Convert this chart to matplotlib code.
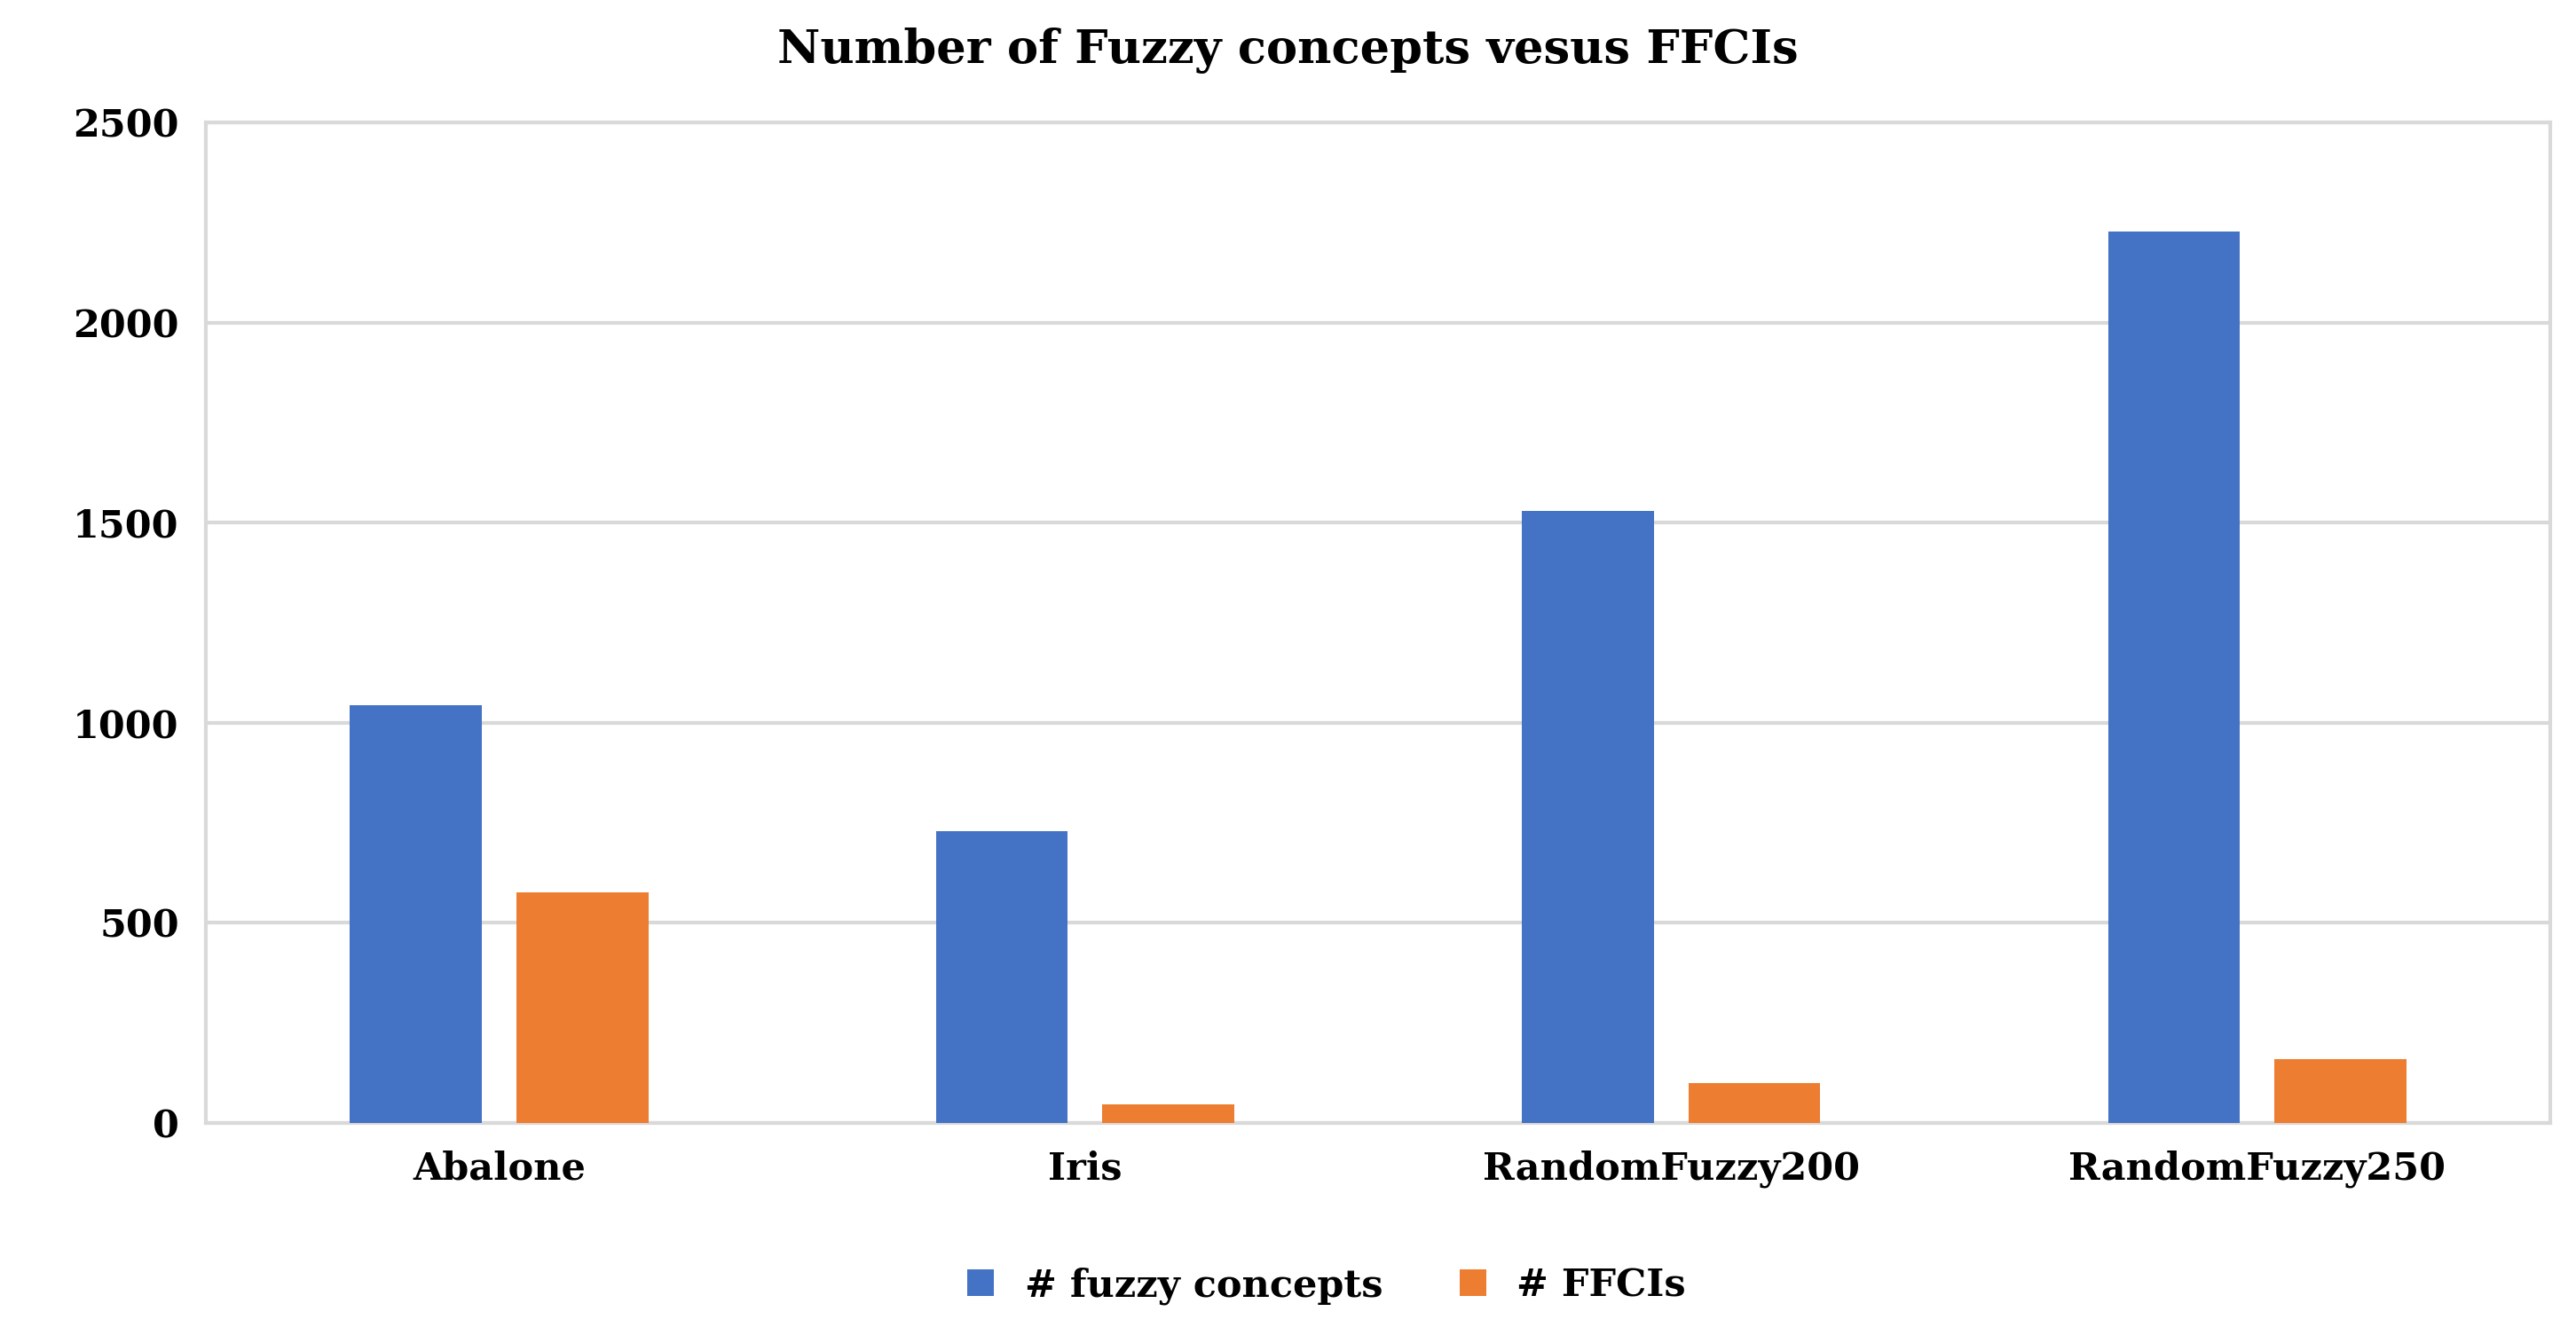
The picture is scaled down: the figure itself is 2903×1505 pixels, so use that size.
import matplotlib
matplotlib.use("Agg")
import matplotlib.pyplot as plt
import numpy as np

categories = ["Abalone", "Iris", "RandomFuzzy200", "RandomFuzzy250"]
fuzzy_concepts = [1045, 730, 1530, 2228]
ffcis = [575, 45, 100, 158]
yticks = [0, 500, 1000, 1500, 2000, 2500]

plt.rcParams['font.family'] = ['DejaVu Serif']
plt.rcParams['font.weight'] = 'bold'

fig = plt.figure(figsize=(29.03, 15.05), dpi=100)
ax = fig.add_axes([0.08, 0.159, 0.91, 0.749])
x = np.arange(len(categories))
w = 0.225
ax.bar(x - 0.142, fuzzy_concepts, w, color="#4472C4", label="# fuzzy concepts", zorder=3)
ax.bar(x + 0.142, ffcis, w, color="#ED7D31", label="# FFCIs", zorder=3)
ax.set_xlim(-0.5, 3.5)
ax.set_ylim(0, 2500)
ax.set_yticks(yticks)
ax.set_yticklabels([str(v) for v in yticks], fontsize=31, fontweight='bold')
ax.set_xticks(x)
ax.set_xticklabels(categories, fontsize=31, fontweight='bold')
ax.tick_params(axis='both', length=0, pad=22)
ax.yaxis.grid(True, color="#D9D9D9", linewidth=3, zorder=0)
for s in ax.spines.values():
    s.set_color("#D9D9D9"); s.set_linewidth(3)
fig.text(0.5, 0.962, "Number of Fuzzy concepts vesus FFCIs", ha='center', va='center',
         fontsize=38, fontweight='bold')
fig.legend(loc='center', bbox_to_anchor=(0.515, 0.037), ncol=2, frameon=False,
           fontsize=31, handlelength=0.7, handleheight=0.7, columnspacing=2.0,
           prop={'size': 31, 'weight': 'bold'})
fig.savefig("out.png", dpi=100)
